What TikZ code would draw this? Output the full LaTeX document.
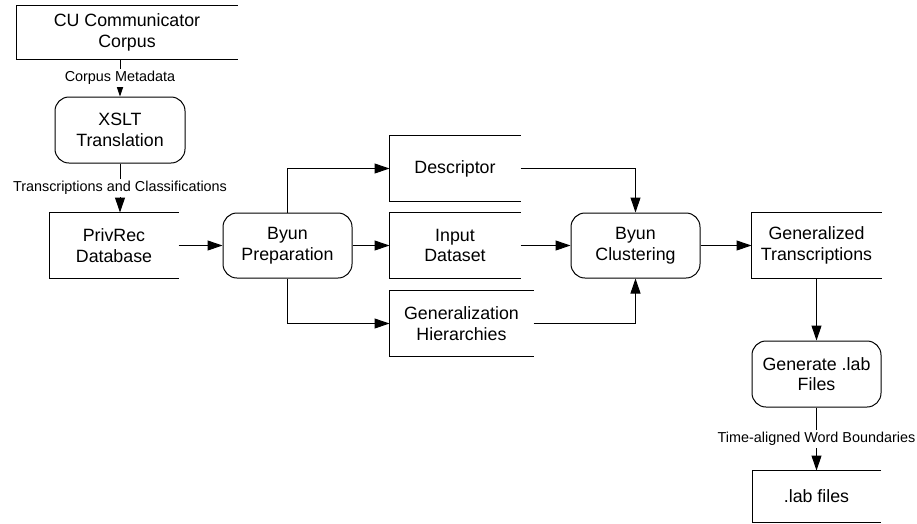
\documentclass[tikz,border=0pt]{standalone}
\usepackage{fontspec}
\setmainfont{Liberation Sans}
\usetikzlibrary{arrows.meta}

\begin{document}
\begin{tikzpicture}[x=1pt,y=-1pt,line width=1pt,
	every node/.style={font=\fontsize{17.8}{20.5}\selectfont,align=center,inner sep=0pt},
	store/.style={minimum width=128pt,minimum height=65pt},
	proc/.style={draw,rounded corners=14pt,minimum width=129pt,minimum height=65pt},
	lbl/.style={fill=white,font=\fontsize{14.4}{16}\selectfont,inner sep=2pt},
	flow/.style={-{Triangle[length=15pt,width=10pt]}}]
	\useasboundingbox (0,0) rectangle (917,523);
	\node[store,minimum width=220pt,minimum height=53pt] (corpus) at (127,32.5) {CU Communicator\\Corpus};
	\node[proc,minimum width=130pt,minimum height=66pt] (xslt) at (120,130) {XSLT\\Translation};
	\node[store] (privrec) at (114,245.5) {PrivRec\\Database};
	\node[proc] (prep) at (287.5,245.5) {Byun\\Preparation};
	\node[store,minimum width=130pt] (desc) at (455,168.5) {Descriptor};
	\node[store,minimum width=130pt] (input) at (455,245.5) {Input\\Dataset};
	\node[store,minimum width=143pt] (hier) at (461.5,323.5) {Generalization\\Hierarchies};
	\node[proc] (clust) at (635.5,245.5) {Byun\\Clustering};
	\node[store,minimum width=129pt] (gentr) at (816.5,245.5) {Generalized\\Transcriptions};
	\node[proc,minimum height=66pt] (genlab) at (816.5,374) {Generate .lab\\Files};
	\node[store,minimum height=51pt] (labf) at (816.5,496.5) {.lab files};
	% data stores are open on the right
	\foreach \n in {corpus,privrec,desc,input,hier,gentr,labf}
		\draw (\n.north east) -- (\n.north west) -- (\n.south west) -- (\n.south east);
	\draw[flow] (xslt.north |- corpus.south) -- node[lbl] {Corpus Metadata} (xslt);
	\draw[flow] (xslt) -- node[lbl] {Transcriptions and Classifications} (xslt |- privrec.north);
	\draw[flow] (privrec) -- (prep);
	\draw[flow] (prep.north) |- (desc);
	\draw[flow] (prep) -- (input);
	\draw[flow] (prep.south) |- (hier);
	\draw[flow] (desc) -| (clust);
	\draw[flow] (input) -- (clust);
	\draw[flow] (hier) -| (clust);
	\draw[flow] (clust) -- (gentr);
	\draw[flow] (gentr) -- (genlab);
	\draw[flow] (genlab) -- node[lbl] {Time-aligned Word Boundaries} (labf);
\end{tikzpicture}
\end{document}
